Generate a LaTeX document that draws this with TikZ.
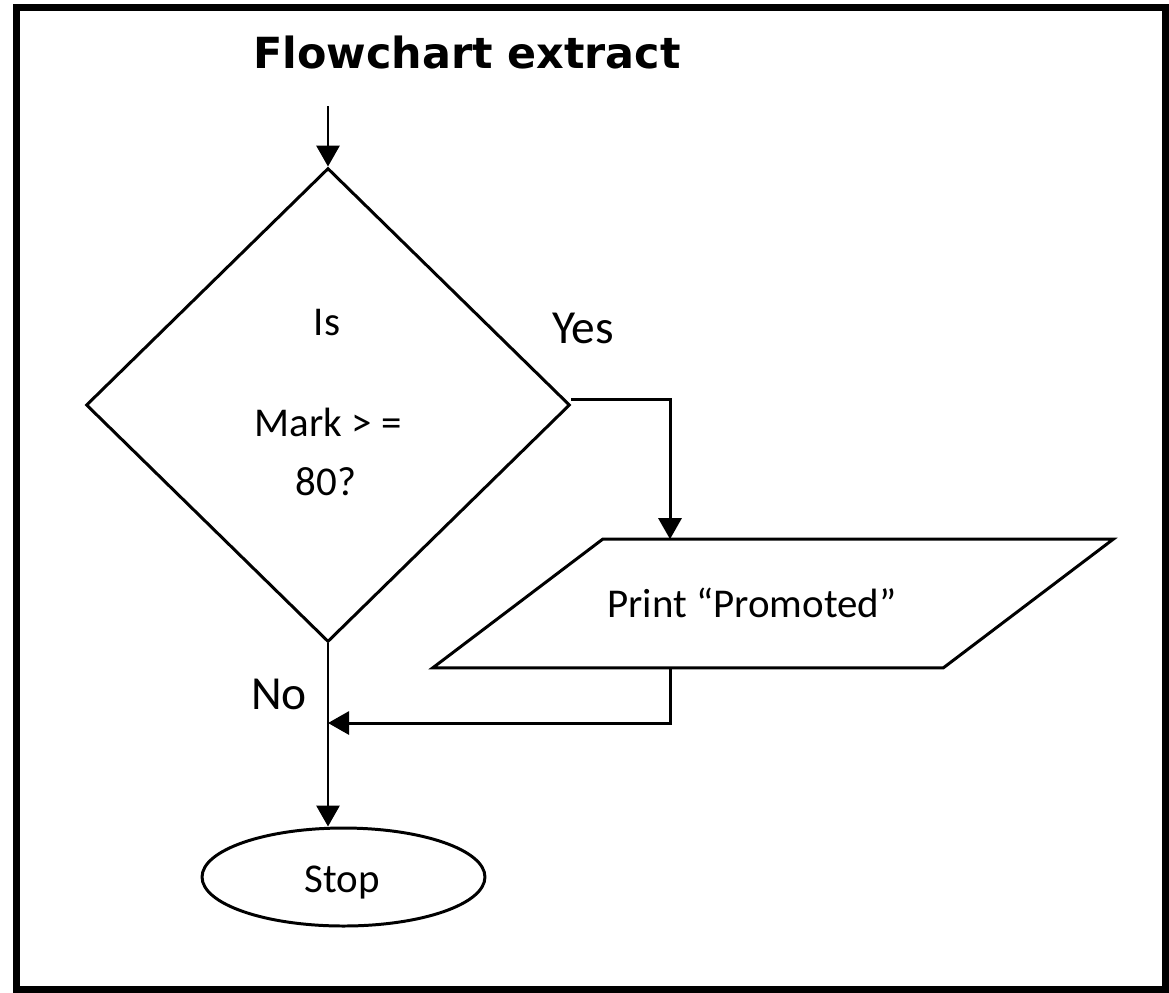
\documentclass[tikz,border=0pt]{standalone}
\usepackage{fontspec}
\setmainfont{Carlito}
\newfontfamily\headfont{DejaVu Sans}
\usetikzlibrary{shapes.geometric,arrows.meta}

\begin{document}
\begin{tikzpicture}[x=0.02cm, y=-0.02cm,
    box/.style={draw, line width=1.7pt, inner sep=0pt},
    flow/.style={line width=1.7pt, -{Triangle[length=0.42cm, width=0.46cm]}},
    txt/.style={anchor=base, font=\fontsize{23.3}{28}\selectfont},
    answer/.style={anchor=base, font=\fontsize{27}{32}\selectfont}]
    \useasboundingbox (0,0) rectangle (1169,992);

    % Frame
    \draw[line width=4pt] (16.5,7.5) rectangle (1165.5,989.5);

    % Title
    \node[anchor=base, font=\headfont\bfseries\fontsize{24.4}{29}\selectfont] (title) at (467,68) {Flowchart extract};

    % Shapes
    \node[box, diamond, minimum width=9.68cm, minimum height=9.48cm] (dec) at (328,405) {};
    \node[inner sep=0pt, minimum width=13.6cm, minimum height=2.56cm] (io) at (773,603.5) {};
    \draw[line width=1.7pt] (io.south west) -- ([xshift=3.4cm]io.north west) -- (io.north east)
        -- ([xshift=-3.4cm]io.south east) -- cycle;
    \node[box, ellipse, minimum width=5.66cm, minimum height=1.96cm] (stop) at (343.5,877) {};

    % Texts
    \node[txt] (qis) at (327,335) {Is};
    \node[txt] (qmark) at (328,436) {Mark > =};
    \node[txt] (qnum) at (326,495) {80?};
    \node[txt] (iotext) at (752,617) {Print “Promoted”};
    \node[txt] (stoptext) at (342,892) {Stop};
    \node[answer] (yes) at (583,343) {Yes};
    \node[answer] (no) at (279,709) {No};

    % Connectors
    \coordinate (entry) at (328,106);
    \coordinate (yesturn) at (670,399);
    \coordinate (backturn) at (670,723);
    \draw[flow] (entry) -- (dec.north);
    \draw[flow] (dec.east |- yesturn) -- (yesturn) -- (io.north -| yesturn);
    \draw[flow] (io.south -| backturn) -- (backturn) -- (dec.south |- backturn);
    \draw[flow] (dec.south) -- (dec.south |- stop.north);
\end{tikzpicture}
\end{document}
